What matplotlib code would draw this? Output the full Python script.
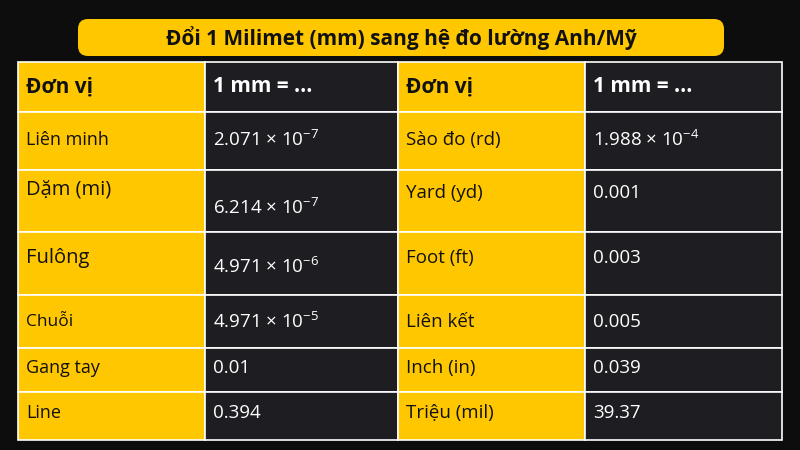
import matplotlib
matplotlib.use("Agg")
import matplotlib.pyplot as plt
from matplotlib.patches import Rectangle, FancyBboxPatch

title = "Đổi 1 Milimet (mm) sang hệ đo lường Anh/Mỹ"
header = ["Đơn vị", "1 mm = ...", "Đơn vị", "1 mm = ..."]
left_units = ["Liên minh", "Dặm (mi)", "Fulông", "Chuỗi", "Gang tay", "Line"]
left_vals = ["2.071 × 10$^{-7}$", "6.214 × 10$^{-7}$", "4.971 × 10$^{-6}$", "4.971 × 10$^{-5}$", "0.01", "0.394"]
right_units = ["Sào đo (rd)", "Yard (yd)", "Foot (ft)", "Liên kết", "Inch (in)", "Triệu (mil)"]
right_vals = ["1.988 × 10$^{-4}$", "0.001", "0.003", "0.005", "0.039", "39.37"]

plt.rcParams["font.family"] = ["Open Sans", "DejaVu Sans"]
plt.rcParams["mathtext.fontset"] = "custom"
plt.rcParams["mathtext.rm"] = "Open Sans"
plt.rcParams["mathtext.default"] = "rm"

W, H = 800, 450
fig = plt.figure(figsize=(8, 4.5), dpi=100)
ax = fig.add_axes([0, 0, 1, 1])
ax.set_xlim(0, W); ax.set_ylim(H, 0); ax.axis("off")
fig.patch.set_facecolor("#0d0d0d")

YEL = "#FFC700"; DARK = "#1d1d22"
ax.add_patch(Rectangle((0, 0), W, H, color="#0d0d0d"))
ax.add_patch(FancyBboxPatch((78, 19), 646, 37, boxstyle="round,pad=0,rounding_size=10",
                            fc=YEL, ec="none"))
ax.text(401, 38, title, ha="center", va="center", fontsize=15, fontweight="bold", color="#111")

cols = [18, 205, 398, 585, 782]
rows = [62, 112, 170, 232, 295, 348, 392, 440]
fills = [YEL, DARK, YEL, DARK]
tcol = ["#111", "white", "#111", "white"]
for r in range(len(rows) - 1):
    for c in range(4):
        ax.add_patch(Rectangle((cols[c], rows[r]), cols[c+1]-cols[c], rows[r+1]-rows[r],
                               fc=fills[c], ec="white", lw=1.2))
for c in range(4):
    ax.text(cols[c] + 8, 87, header[c], ha="left", va="center",
            fontsize=15, fontweight="bold", color=tcol[c])

ypos = [[140, 190, 258, 322, 368, 413],
        [140, 208, 267, 322, 368, 413],
        [140, 193, 258, 322, 368, 413],
        [140, 193, 258, 322, 368, 413]]
fsz = [[13, 14.5, 14.5, 12.5, 13, 13], [13.5] * 6, [13.5] * 6, [13.5] * 6]
cols_data = [left_units, left_vals, right_units, right_vals]
for c in range(4):
    for i, s in enumerate(cols_data[c]):
        ax.text(cols[c] + 8, ypos[c][i], s, ha="left", va="center",
                fontsize=fsz[c][i], color=tcol[c])

fig.savefig("out.png", dpi=100, facecolor=fig.get_facecolor())
